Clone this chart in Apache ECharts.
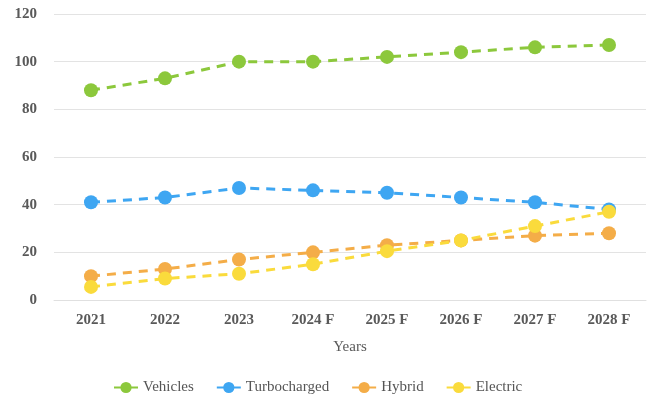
<!DOCTYPE html>
<html>
<head>
<meta charset="utf-8">
<script src="https://cdn.jsdelivr.net/npm/echarts@6/dist/echarts.min.js"></script>
<style>
  html, body { margin: 0; padding: 0; background: #fff; }
  #chart { width: 648px; height: 397px; }
</style>
</head>
<body>
<div id="chart"></div>
<script>
const years = ['2021', '2022', '2023', '2024 F', '2025 F', '2026 F', '2027 F', '2028 F'];
const vehicles = [88, 93, 100, 100, 102, 104, 106, 107];
const turbocharged = [41, 43, 47, 46, 45, 43, 41, 38];
const hybrid = [10, 13, 17, 20, 23, 25, 27, 28];
const electric = [5.5, 9, 11, 15, 20.5, 25, 31, 37];

const serif = '"Liberation Serif", "DejaVu Serif", serif';

function lineSeries(name, data, color, z) {
  return {
    name: name,
    type: 'line',
    data: data,
    z: z,
    symbol: 'circle',
    symbolSize: 14,
    itemStyle: { color: color },
    lineStyle: { color: color, width: 3, type: [9, 7] },
    emphasis: { disabled: true }
  };
}

const chart = echarts.init(document.getElementById('chart'), null, { renderer: 'canvas' });
chart.setOption({
  animation: false,
  backgroundColor: '#ffffff',
  grid: { left: 54, right: 2, top: 14, bottom: 97 },
  legend: {
    top: 375,
    left: 108,
    itemWidth: 24,
    itemHeight: 14,
    itemGap: 22,
    textStyle: { fontFamily: serif, fontSize: 15, color: '#555555' },
    data: ['Vehicles', 'Turbocharged', 'Hybrid', 'Electric']
  },
  xAxis: {
    type: 'category',
    data: years,
    boundaryGap: true,
    name: 'Years',
    nameLocation: 'middle',
    nameGap: 40,
    nameTextStyle: { fontFamily: serif, fontSize: 15, color: '#595959' },
    axisLine: { show: true, lineStyle: { color: '#e0e0e0', width: 1 } },
    axisTick: { show: false },
    axisLabel: { fontFamily: serif, fontSize: 15, fontWeight: 'bold', color: '#595959', margin: 13 }
  },
  yAxis: {
    type: 'value',
    min: 0,
    max: 120,
    interval: 20,
    axisLine: { show: false },
    axisTick: { show: false },
    splitLine: { lineStyle: { color: '#e3e3e3', width: 1 } },
    axisLabel: { fontFamily: serif, fontSize: 15, fontWeight: 'bold', color: '#595959', margin: 17 }
  },
  series: [
    lineSeries('Vehicles', vehicles, '#8cc83c', 4),
    lineSeries('Turbocharged', turbocharged, '#3ea6f2', 3),
    lineSeries('Hybrid', hybrid, '#f4ad48', 2),
    lineSeries('Electric', electric, '#fadb3c', 5)
  ]
});
</script>
</body>
</html>
